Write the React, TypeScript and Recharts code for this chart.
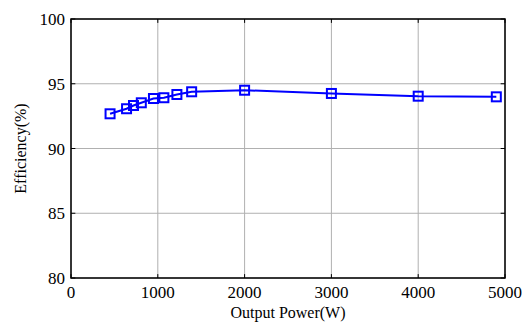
import { LineChart, Line, XAxis, YAxis, CartesianGrid, ReferenceArea, ReferenceLine } from "recharts";

const power = [450, 640, 720, 810, 950, 1070, 1220, 1390, 2000, 3000, 4000, 4900];
const efficiency = [92.68, 93.07, 93.32, 93.53, 93.86, 93.92, 94.17, 94.38, 94.5, 94.25, 94.04, 93.99];
const xTicks = [0, 1000, 2000, 3000, 4000, 5000];
const yTicks = [80, 85, 90, 95, 100];

const data = power.map((p, i) => ({ p, eff: efficiency[i] }));

const font = "Liberation Serif";

const SquareDot = (props: any) => {
  const { cx, cy } = props;
  if (cx == null || cy == null) return null;
  return (
    <rect x={cx - 4.5} y={cy - 4.5} width={9} height={9} fill="none" stroke="#0000ff" strokeWidth={2} />
  );
};

const XTick = (props: any) => {
  const { x, y, payload } = props;
  return (
    <text x={x} y={y} dy="0.71em" textAnchor="middle" style={{ fontSize: 17, fontFamily: font }} fill="#000">
      {payload.value}
    </text>
  );
};

const YTick = (props: any) => {
  const { x, y, payload } = props;
  return (
    <text x={x} y={y} dy="0.36em" textAnchor="end" style={{ fontSize: 17, fontFamily: font }} fill="#000">
      {payload.value}
    </text>
  );
};

export default function App() {
  return (
    <div
      style={{ position: "absolute", left: 0, top: 0, width: 524, height: 325, background: "#fff", fontFamily: font }}
    >
      <LineChart
        width={524}
        height={325}
        data={data}
        margin={{ top: 19, right: 19, left: 0, bottom: 17 }}
        style={{ fontFamily: font }}
      >
        <CartesianGrid stroke="#b0b0b0" strokeWidth={1} />
        <XAxis
          dataKey="p"
          type="number"
          domain={[0, 5000]}
          ticks={xTicks}
          height={30}
          axisLine={false}
          tickLine={false}
          tickSize={0}
          tickMargin={8}
          tick={XTick}
          label={{
            content: (lp: any) => {
              const vb = lp.viewBox || { x: 71, y: 278, width: 434 };
              return (
                <text
                  x={vb.x + vb.width / 2}
                  y={318}
                  textAnchor="middle"
                  fontSize={16}
                  fontFamily={font}
                  fill="#000"
                >
                  Output Power(W)
                </text>
              );
            },
          }}
        />
        <YAxis
          type="number"
          domain={[80, 100]}
          ticks={yTicks}
          width={71}
          axisLine={false}
          tickLine={false}
          tickSize={0}
          tickMargin={6}
          tick={YTick}
          label={{
            content: (lp: any) => {
              const vb = lp.viewBox || { y: 19, height: 259 };
              const cy = vb.y + vb.height / 2;
              return (
                <text
                  x={20}
                  y={cy}
                  transform={`rotate(-90, 20, ${cy})`}
                  textAnchor="middle"
                  dominantBaseline="central"
                  fontSize={16}
                  fontFamily={font}
                  fill="#000"
                >
                  Efficiency(%)
                </text>
              );
            },
          }}
        />
        {xTicks.map((t) => (
          <ReferenceLine
            key={"xb" + t}
            segment={[{ x: t, y: 80 }, { x: t, y: 80.3 }]}
            stroke="#000"
            strokeWidth={1}
          />
        ))}
        {xTicks.map((t) => (
          <ReferenceLine
            key={"xt" + t}
            segment={[{ x: t, y: 100 }, { x: t, y: 99.7 }]}
            stroke="#000"
            strokeWidth={1}
          />
        ))}
        {yTicks.map((t) => (
          <ReferenceLine
            key={"yl" + t}
            segment={[{ x: 0, y: t }, { x: 50, y: t }]}
            stroke="#000"
            strokeWidth={1}
          />
        ))}
        {yTicks.map((t) => (
          <ReferenceLine
            key={"yr" + t}
            segment={[{ x: 5000, y: t }, { x: 4950, y: t }]}
            stroke="#000"
            strokeWidth={1}
          />
        ))}
        <ReferenceArea x1={0} x2={5000} y1={80} y2={100} fill="none" fillOpacity={0} stroke="#000" strokeWidth={1.5} />
        <Line
          dataKey="eff"
          stroke="#0000ff"
          strokeWidth={2}
          dot={<SquareDot />}
          isAnimationActive={false}
        />
      </LineChart>
    </div>
  );
}
